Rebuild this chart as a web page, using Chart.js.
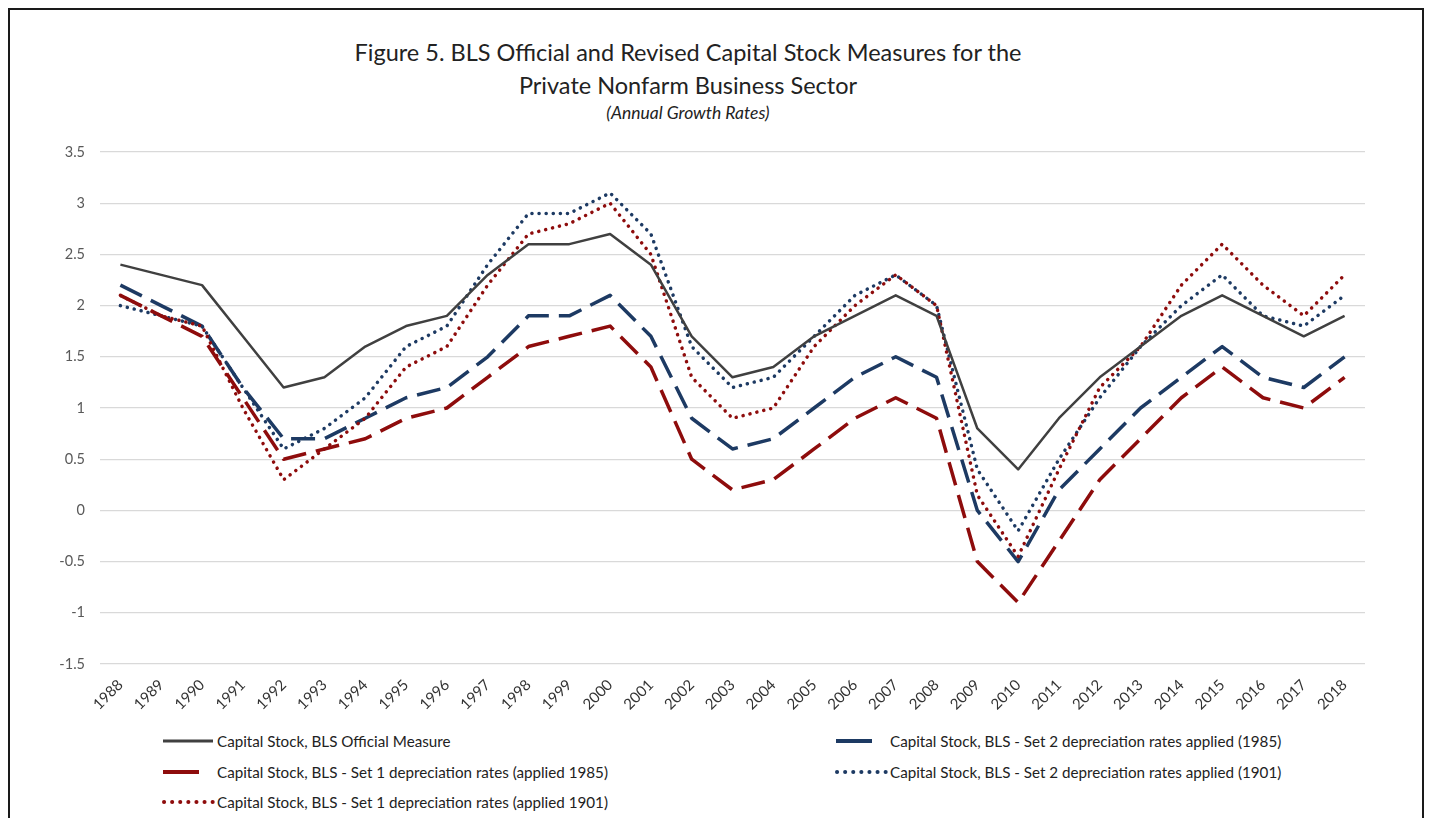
<!DOCTYPE html>
<html>
<head>
<meta charset="utf-8">
<script src="https://cdn.jsdelivr.net/npm/chart.js@4"></script>
<style>
  html, body { margin: 0; padding: 0; background: #fff; }
  body { width: 1432px; height: 818px; position: relative; overflow: hidden; font-family: Lato, "Open Sans", sans-serif; color: #222; }
  #frame { position: absolute; left: 8px; top: 8px; width: 1416px; height: 900px; border: 2px solid #1a1a1a; box-sizing: border-box; }
  #chart-wrap { position: absolute; left: 0; top: 0; width: 1432px; height: 715px; }
  .title { position: absolute; left: 288px; width: 800px; text-align: center; white-space: nowrap; line-height: 1.2; }
  #t1 { top: 38px; font-size: 23.5px; }
  #t2 { top: 71px; font-size: 23.5px; }
  #t3 { top: 102px; font-size: 17.5px; font-style: italic; }
  .lg { position: absolute; display: flex; align-items: center; font-size: 15.2px; color: #222; white-space: nowrap; }
  .lg svg { width: 54px; height: 10px; flex: none; }
</style>
</head>
<body>
<div id="frame"></div>
<div class="title" id="t1">Figure 5. BLS Official and Revised Capital Stock Measures for the</div>
<div class="title" id="t2">Private Nonfarm Business Sector</div>
<div class="title" id="t3">(Annual Growth Rates)</div>
<div id="chart-wrap"><canvas id="c" width="1432" height="715"></canvas></div>
<div id="legend"></div>
<script>
const years = ["1988", "1989", "1990", "1991", "1992", "1993", "1994", "1995", "1996", "1997",
  "1998", "1999", "2000", "2001", "2002", "2003", "2004", "2005", "2006", "2007",
  "2008", "2009", "2010", "2011", "2012", "2013", "2014", "2015", "2016", "2017", "2018"];

const official = [2.4, 2.3, 2.2, 1.7, 1.2, 1.3, 1.6, 1.8, 1.9, 2.3, 2.6, 2.6, 2.7, 2.4, 1.7, 1.3,
  1.4, 1.7, 1.9, 2.1, 1.9, 0.8, 0.4, 0.9, 1.3, 1.6, 1.9, 2.1, 1.9, 1.7, 1.9];
const set1_1985 = [2.1, 1.9, 1.7, 1.1, 0.5, 0.6, 0.7, 0.9, 1.0, 1.3, 1.6, 1.7, 1.8, 1.4, 0.5, 0.2,
  0.3, 0.6, 0.9, 1.1, 0.9, -0.5, -0.9, -0.3, 0.3, 0.7, 1.1, 1.4, 1.1, 1.0, 1.3];
const set1_1901 = [2.1, 1.9, 1.8, 1.0, 0.3, 0.6, 0.9, 1.4, 1.6, 2.2, 2.7, 2.8, 3.0, 2.5, 1.3, 0.9,
  1.0, 1.6, 2.0, 2.3, 2.0, 0.15, -0.45, 0.4, 1.2, 1.6, 2.2, 2.6, 2.2, 1.9, 2.3];
const set2_1985 = [2.2, 2.0, 1.8, 1.2, 0.7, 0.7, 0.9, 1.1, 1.2, 1.5, 1.9, 1.9, 2.1, 1.7, 0.9, 0.6,
  0.7, 1.0, 1.3, 1.5, 1.3, 0.0, -0.5, 0.2, 0.6, 1.0, 1.3, 1.6, 1.3, 1.2, 1.5];
const set2_1901 = [2.0, 1.9, 1.8, 1.2, 0.6, 0.8, 1.1, 1.6, 1.8, 2.4, 2.9, 2.9, 3.1, 2.7, 1.6, 1.2,
  1.3, 1.7, 2.1, 2.3, 2.0, 0.4, -0.2, 0.5, 1.1, 1.6, 2.0, 2.3, 1.9, 1.8, 2.1];

const GRAY = "#404040";
const RED = "#8e0c0c";
const BLUE = "#1d3a63";
const DASH = [24, 10];
const DOT = [0.1, 7];

const series = [
  { label: "Capital Stock, BLS Official Measure", data: official, color: GRAY, dash: [], width: 2.5, cap: "butt" },
  { label: "Capital Stock, BLS - Set 1 depreciation rates (applied 1985)", data: set1_1985, color: RED, dash: DASH, width: 3.5, cap: "butt" },
  { label: "Capital Stock, BLS - Set 1 depreciation rates (applied 1901)", data: set1_1901, color: RED, dash: DOT, width: 3.5, cap: "round" },
  { label: "Capital Stock, BLS - Set 2 depreciation rates applied (1985)", data: set2_1985, color: BLUE, dash: DASH, width: 3.5, cap: "butt" },
  { label: "Capital Stock, BLS - Set 2 depreciation rates applied (1901)", data: set2_1901, color: BLUE, dash: DOT, width: 3.5, cap: "round" },
];

Chart.defaults.font.family = "Lato, 'Open Sans', sans-serif";

new Chart(document.getElementById("c"), {
  type: "line",
  data: {
    labels: years,
    datasets: series.map((s) => ({
      label: s.label,
      data: s.data,
      borderColor: s.color,
      backgroundColor: s.color,
      borderWidth: s.width,
      borderDash: s.dash,
      borderCapStyle: s.cap,
      borderJoinStyle: "round",
      pointRadius: 0,
      tension: 0,
      fill: false,
    })),
  },
  options: {
    responsive: false,
    animation: false,
    layout: { padding: { left: 30, right: 67, top: 152, bottom: 0 } },
    plugins: { legend: { display: false }, title: { display: false }, tooltip: { enabled: false } },
    scales: {
      x: {
        offset: true,
        grid: { display: false },
        border: { display: false },
        ticks: { color: "#333", font: { size: 15 }, maxRotation: 45, minRotation: 45, autoSkip: false, padding: 4 },
        afterFit: (s) => { s.height = 51; },
      },
      y: {
        min: -1.5, max: 3.5,
        grid: { color: "#d9d9d9", lineWidth: 1.3, drawTicks: false },
        border: { display: false },
        ticks: { stepSize: 0.5, color: "#595959", font: { size: 14.5 }, padding: 15, callback: (v) => `${v}` },
        afterFit: (s) => { s.width = 70; },
      },
    },
  },
});

// ---------- Legend (two columns, like the original) ----------
const legendPos = [
  { x: 161, y: 742 },  // official
  { x: 161, y: 773 },  // set 1 1985
  { x: 161, y: 803 },  // set 1 1901
  { x: 834, y: 742 },  // set 2 1985
  { x: 834, y: 773 },  // set 2 1901
];
const legendRoot = document.getElementById("legend");
series.forEach((s, i) => {
  const p = legendPos[i];
  const el = document.createElement("div");
  el.className = "lg";
  el.style.left = p.x + "px";
  el.style.top = (p.y - 10) + "px";
  const isDash = s.dash.length && s.dash[0] > 1;
  const isDot = s.dash.length && s.dash[0] < 1;
  const x2 = isDash ? 38 : 52;
  const dashAttr = isDot ? 'stroke-dasharray="0.1 8"' : "";
  el.innerHTML = `<svg viewBox="0 0 54 10"><line x1="${isDot ? 3 : 2}" y1="5" x2="${x2}" y2="5" stroke="${s.color}" stroke-width="${s.width + 0.5}" stroke-linecap="${isDot ? "round" : "butt"}" ${dashAttr}/></svg><span style="margin-left:2px">${s.label}</span>`;
  legendRoot.appendChild(el);
});
</script>
</body>
</html>
